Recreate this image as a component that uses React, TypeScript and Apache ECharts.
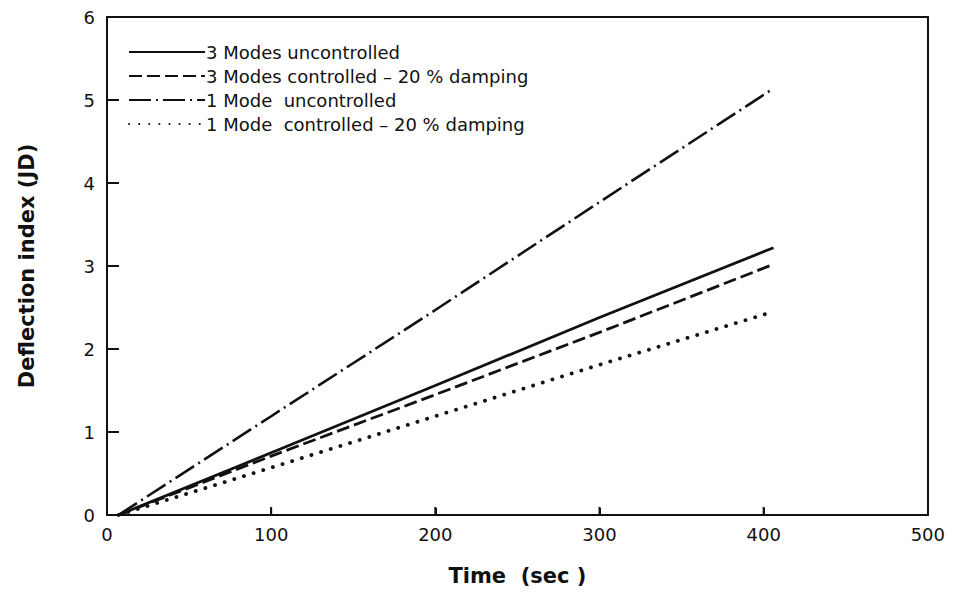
import React, { useEffect, useRef } from "react";
import * as echarts from "echarts";

const timeSec = [7, 100, 200, 300, 406];
const threeModesUncontrolled = [0, 0.75, 1.56, 2.38, 3.22];
const threeModesControlled = [0, 0.71, 1.45, 2.2, 3.02];
const oneModeUncontrolled = [0, 1.19, 2.47, 3.77, 5.14];
const oneModeControlled = [0, 0.57, 1.19, 1.81, 2.45];

const seriesNames = [
  "3 Modes uncontrolled",
  "3 Modes controlled – 20 % damping",
  "1 Mode  uncontrolled",
  "1 Mode  controlled – 20 % damping",
];
const xTicks = [0, 100, 200, 300, 400, 500];
const yTicks = [0, 1, 2, 3, 4, 5, 6];

const FONT = "DejaVu Sans";
const INK = "#111";

function pairs(ys: number[]) {
  return timeSec.map((t, i) => [t, ys[i]]);
}

export default function App() {
  const ref = useRef<HTMLDivElement>(null);
  useEffect(() => {
    if (!ref.current) return;
    const chart = echarts.init(ref.current, null, { renderer: "svg" });
    const styles: any[] = [
      { type: "solid", width: 2.8 },
      { type: [13, 5], width: 2.8 },
      { type: [22, 5, 2, 5], width: 2.6 },
      { type: [0.1, 10], width: 3.8, cap: "round" },
    ];
    const datasets = [
      threeModesUncontrolled,
      threeModesControlled,
      oneModeUncontrolled,
      oneModeControlled,
    ];
    const frameAxis = {
      type: "value",
      axisLine: { show: true, lineStyle: { color: INK, width: 2 } },
      axisTick: { show: false },
      axisLabel: { show: false },
      splitLine: { show: false },
    };
    const tickSeries = (name: string, data: number[][], size: number[], offset: number[]) => ({
      name,
      type: "scatter",
      xAxisIndex: 0,
      yAxisIndex: 0,
      clip: false,
      silent: true,
      symbol: "rect",
      symbolSize: size,
      symbolOffset: offset,
      itemStyle: { color: INK, opacity: 1 },
      data,
      z: 5,
    });
    chart.setOption({
      animation: false,
      backgroundColor: "#fff",
      grid: {
        left: 95,
        right: 17,
        top: 7,
        bottom: 67,
        show: false,
      },
      legend: {
        show: true,
        orient: "vertical",
        left: 115,
        top: 30,
        itemWidth: 76,
        itemHeight: 14,
        itemGap: 6,
        data: seriesNames,
        itemStyle: { opacity: 0 },
        textStyle: {
          fontFamily: FONT,
          fontSize: 18,
          lineHeight: 18,
          color: INK,
          padding: [0, 0, 0, -4],
        },
        selectedMode: false,
      },
      xAxis: [
        {
          type: "value",
          min: 0,
          max: 500,
          interval: 100,
          position: "bottom",
          name: "Time  (sec )",
          nameLocation: "middle",
          nameGap: 50,
          nameTextStyle: {
            fontFamily: FONT,
            fontSize: 21,
            fontWeight: "bold",
            color: INK,
          },
          axisLine: { show: true, onZero: false, lineStyle: { color: INK, width: 2 } },
          axisTick: { show: true, inside: true, length: 7, lineStyle: { color: INK, width: 2 } },
          axisLabel: {
            fontFamily: FONT,
            fontSize: 18,
            color: INK,
            margin: 10,
            formatter: (v: number) => (xTicks.includes(v) ? String(v) : ""),
          },
          splitLine: { show: false },
        },
        { ...frameAxis, min: 0, max: 500, interval: 100, position: "top", axisLine: { ...frameAxis.axisLine, onZero: false } },
      ],
      yAxis: [
        {
          type: "value",
          min: 0,
          max: 6,
          interval: 1,
          position: "left",
          name: "Deflection index (JD)",
          nameLocation: "middle",
          nameGap: 70,
          nameTextStyle: {
            fontFamily: FONT,
            fontSize: 21,
            fontWeight: "bold",
            color: INK,
          },
          axisLine: { show: true, onZero: false, lineStyle: { color: INK, width: 2 } },
          axisTick: { show: true, inside: true, length: 11, lineStyle: { color: INK, width: 2 } },
          axisLabel: {
            fontFamily: FONT,
            fontSize: 18,
            color: INK,
            margin: 12,
            formatter: (v: number) => (yTicks.includes(v) ? String(v) : ""),
          },
          splitLine: { show: false },
        },
        { ...frameAxis, min: 0, max: 6, interval: 1, position: "right", axisLine: { ...frameAxis.axisLine, onZero: false } },
      ],
      series: [
        ...datasets.map((d, i) => ({
          name: seriesNames[i],
          type: "line",
          xAxisIndex: 0,
          yAxisIndex: 0,
          data: pairs(d),
          symbol: "none",
          showSymbol: false,
          smooth: false,
          color: INK,
          lineStyle: { color: INK, ...styles[i] },
        })),
        tickSeries("xTickMarks", xTicks.slice(1, -1).map((v) => [v, 0]), [2, 8], [0, -4]),
        tickSeries("yTickMarks", yTicks.slice(1, -1).map((v) => [0, v]), [12, 2], [6, 0]),
      ],
    });
    return () => chart.dispose();
  }, []);
  return <div ref={ref} style={{ width: 940, height: 583 }} />;
}
